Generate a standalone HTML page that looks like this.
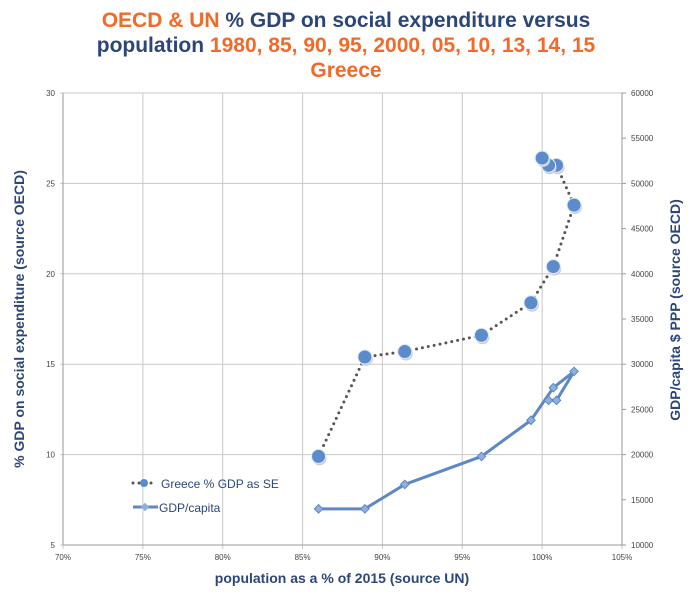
<!DOCTYPE html>
<html><head><meta charset="utf-8"><style>
body{margin:0;background:#fff;width:692px;height:606px;overflow:hidden;font-family:"Liberation Sans",sans-serif}
.t{position:absolute;left:0;width:692px;text-align:center;font-weight:bold;font-size:21px;line-height:25px}
.o{color:#f26a2a}.n{color:#2c4679}
</style></head><body>
<div class="t" style="top:8px">
<span class="o">OECD &amp; UN </span><span class="n">% GDP on social expenditure versus</span><br>
<span class="n">population </span><span class="o">1980, 85, 90, 95, 2000, 05, 10, 13, 14, 15</span><br>
<span class="o">Greece</span></div>
<svg id="c" width="692" height="606" style="position:absolute;left:0;top:0"></svg>
<script>
const xTicks=[70,75,80,85,90,95,100,105];
const yTicks=[5,10,15,20,25,30];
const y2Ticks=[10000,15000,20000,25000,30000,35000,40000,45000,50000,55000,60000];
const popPct=[86.0,88.9,91.4,96.2,99.3,100.7,102.0,100.9,100.4,100.0];
const sePct=[9.9,15.4,15.7,16.6,18.4,20.4,23.8,26.0,26.0,26.4];
const gdpPop=[86.0,88.9,91.4,96.2,99.3,100.7,102.0,100.9,100.4];
const gdpVal=[14000,14000,16700,19800,23800,27400,29200,26000,26000];
const L=63,R=622,T=93,B=545;
const X=v=>L+(v-70)/35*(R-L), Y=v=>B-(v-5)/25*(B-T), Y2=v=>B-(v-10000)/50000*(B-T);
const s=document.getElementById('c');const NS='http://www.w3.org/2000/svg';
function el(t,a,p){const e=document.createElementNS(NS,t);for(const k in a)e.setAttribute(k,a[k]);(p||s).appendChild(e);return e;}
xTicks.forEach(v=>{const l=el('line',{x1:X(v),x2:X(v),y1:T,y2:B+4,stroke:'#c8c8c8'});


const t=el('text',{x:X(v),y:B+15,'font-size':8,'text-anchor':'middle',fill:'#444'});t.textContent=v+'%';

});
yTicks.forEach(v=>{const l=el('line',{x1:L-3,x2:R,y1:Y(v),y2:Y(v),stroke:'#c8c8c8'});


const t=el('text',{x:L-8,y:Y(v)+3,'font-size':8,'text-anchor':'end',fill:'#444'});t.textContent=v;

});
y2Ticks.forEach(v=>{el('line',{x1:R,x2:R+4,y1:Y2(v),y2:Y2(v),stroke:'#999'});
const t=el('text',{x:R+9,y:Y2(v)+3,'font-size':8,fill:'#444'});t.textContent=v;

});
el('line',{x1:L,x2:L,y1:T,y2:B,stroke:'#999'});el('line',{x1:R,x2:R,y1:T,y2:B,stroke:'#999'});el('line',{x1:L,x2:R,y1:B,y2:B,stroke:'#999'});
// GDP line
const g=el('polyline',{points:gdpPop.map((p,i)=>X(p)+','+Y2(gdpVal[i])).join(' '),fill:'none',stroke:'#5d88c4','stroke-width':3,'stroke-linejoin':'round'});


gdpPop.forEach((p,i)=>{const m=el('rect',{x:X(p)-3,y:Y2(gdpVal[i])-3,width:6,height:6,fill:'#8fb0dc',stroke:'#5d88c4',transform:`rotate(45 ${X(p)} ${Y2(gdpVal[i])})`});

});
// SE line
const d=el('polyline',{points:popPct.map((p,i)=>X(p)+','+Y(sePct[i])).join(' '),fill:'none',stroke:'#555','stroke-width':3,'stroke-dasharray':'0 6','stroke-linecap':'round'});


popPct.forEach((p,i)=>{el('circle',{cx:X(p)+1,cy:Y(sePct[i])+2,r:7,fill:'#c9cfd8'});
const c=el('circle',{cx:X(p),cy:Y(sePct[i]),r:7,fill:'#5b8bcb',stroke:'#e0e8f3','stroke-width':1});

});
// legend
el('line',{x1:133,x2:155,y1:483,y2:483,stroke:'#555','stroke-width':3,'stroke-dasharray':'0 6','stroke-linecap':'round'});
el('circle',{cx:144,cy:483,r:4,fill:'#5b8bcb'});
let t=el('text',{x:161,y:488,'font-size':12,fill:'#2c4679'});t.textContent='Greece % GDP as SE';


el('line',{x1:133,x2:158,y1:507,y2:507,stroke:'#5d88c4','stroke-width':3});
el('rect',{x:142,y:504,width:6,height:6,fill:'#8fb0dc',transform:'rotate(45 145 507)'});
t=el('text',{x:159,y:512,'font-size':12,fill:'#2c4679'});t.textContent='GDP/capita';


t=el('text',{x:342,y:583,'font-size':14,'font-weight':'bold','text-anchor':'middle',fill:'#2c4679'});t.textContent='population as a % of 2015 (source UN)';


t=el('text',{x:0,y:0,'font-size':14,'font-weight':'bold','text-anchor':'middle',fill:'#2c4679',transform:'translate(24,319) rotate(-90)'});t.textContent='% GDP on social expenditure (source OECD)';


t=el('text',{x:0,y:0,'font-size':14,'font-weight':'bold','text-anchor':'middle',fill:'#2c4679',transform:'translate(680,310) rotate(-90)'});t.textContent='GDP/capita $ PPP (source OECD)';


</script>
</body></html>
